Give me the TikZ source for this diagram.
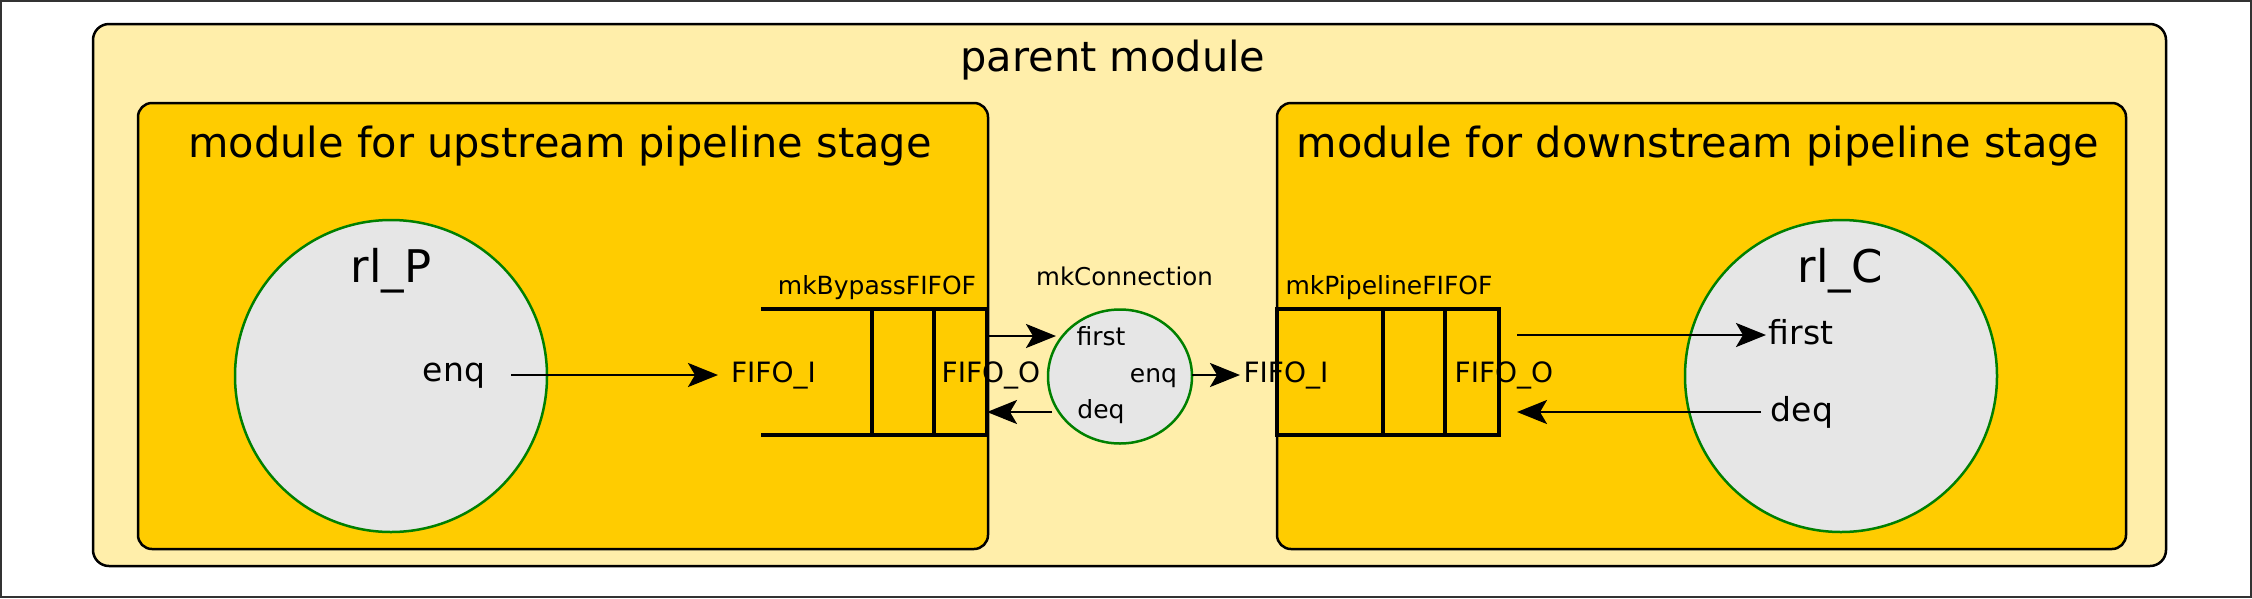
\documentclass[tikz,border=0pt]{standalone}
\usepackage{fontspec}
\setmainfont{DejaVu Sans}
\usetikzlibrary{arrows.meta,shapes.geometric}
\definecolor{parentfill}{HTML}{FFEEAA}
\definecolor{modfill}{HTML}{FFCC00}
\definecolor{rulefill}{HTML}{E6E6E6}
\definecolor{rulegreen}{HTML}{008000}
\newcommand{\fsz}[1]{\fontsize{#1}{#1}\selectfont}
\begin{document}
\begin{tikzpicture}[x=1pt,y=-1pt,
 box/.style={draw=black, line width=2.5pt, rounded corners=14pt, inner sep=0pt},
 rulecirc/.style={ellipse, draw=rulegreen, fill=rulefill, line width=2.5pt, inner sep=0pt},
 fifoline/.style={line width=4pt, line cap=rect},
 arr/.style={line width=2.7pt, -{Stealth[length=30pt,width=24pt,inset=7pt]}},
 lbl/.style={inner sep=0pt, anchor=base},
]
\useasboundingbox (0,0) rectangle (2252,598);
\draw[line width=2pt, draw=black!80] (1,1) rectangle (2251,597);
% modules
\node[box, fill=parentfill, rounded corners=16pt, minimum width=2073pt, minimum height=542pt] (parent) at (1129.5,295) {};
\node[box, fill=modfill, minimum width=850pt, minimum height=446pt] (up) at (563,326) {};
\node[box, fill=modfill, minimum width=849pt, minimum height=446pt] (down) at (1701.5,326) {};
% rule circles
\node[rulecirc, minimum width=312pt, minimum height=312pt] (rlP) at (391,376) {};
\node[rulecirc, minimum width=312pt, minimum height=312pt] (rlC) at (1841,376) {};
\node[rulecirc, minimum width=144pt, minimum height=134pt] (conn) at (1120,376.5) {};
% FIFOs
\draw[fifoline] (763,309) -- (987,309) (763,435) -- (987,435)
  (872,309) -- (872,435) (934,309) -- (934,435) (987,309) -- (987,435);
\draw[fifoline] (1277,309) rectangle (1499,435)
  (1383,309) -- (1383,435) (1445,309) -- (1445,435);
% titles
\node[lbl] (ptitle) at (1113,71) {\fsz{41.5}parent module};
\node[lbl] (utitle) at (560,157) {\fsz{41.5}module for upstream pipeline stage};
\node[lbl] (dtitle) at (1698,157) {\fsz{41.5}module for downstream pipeline stage};
% labels
\node[lbl] (rlPname) at (391,282) {\fsz{45}rl\_P};
\node[lbl] (rlCname) at (1840,282) {\fsz{45}rl\_C};
\node[lbl] (enqP) at (454,381) {\fsz{33}enq};
\node[lbl] (firstC) at (1801,344) {\fsz{33}first};
\node[lbl] (deqC) at (1802,421) {\fsz{33}deq};
\node[lbl] (bypname) at (877,294) {\fsz{25}mkBypassFIFOF};
\node[lbl] (pipname) at (1389,294) {\fsz{25}mkPipelineFIFOF};
\node[lbl] (connname) at (1124.5,285) {\fsz{24.5}mkConnection};
\node[lbl] (fifoIB) at (773.5,382) {\fsz{28}FIFO\_I};
\node[lbl] (fifoOB) at (991,382) {\fsz{28}FIFO\_O};
\node[lbl] (fifoIP) at (1286,382) {\fsz{28}FIFO\_I};
\node[lbl] (fifoOP) at (1504,382) {\fsz{28}FIFO\_O};
\node[lbl] (connfirst) at (1101,345) {\fsz{25}first};
\node[lbl] (connenq) at (1153.5,382) {\fsz{25}enq};
\node[lbl] (conndeq) at (1101,418) {\fsz{25}deq};
% connector end points
\coordinate (a1s) at (511,375);  \coordinate (a1e) at (718,375);
\coordinate (a2s) at (987,336);  \coordinate (a2e) at (1056,336);
\coordinate (a3s) at (1052,412); \coordinate (a3e) at (987,412);
\coordinate (a4s) at (1192,375); \coordinate (a4e) at (1240,375);
\coordinate (a5s) at (1517,335); \coordinate (a5e) at (1766,335);
\coordinate (a6s) at (1761,412); \coordinate (a6e) at (1517,412);
\draw[arr] (a1s) -- (a1e);
\draw[arr] (a2s) -- (a2e);
\draw[arr] (a3s) -- (a3e);
\draw[arr] (a4s) -- (a4e);
\draw[arr] (a5s) -- (a5e);
\draw[arr] (a6s) -- (a6e);
\end{tikzpicture}
\end{document}
